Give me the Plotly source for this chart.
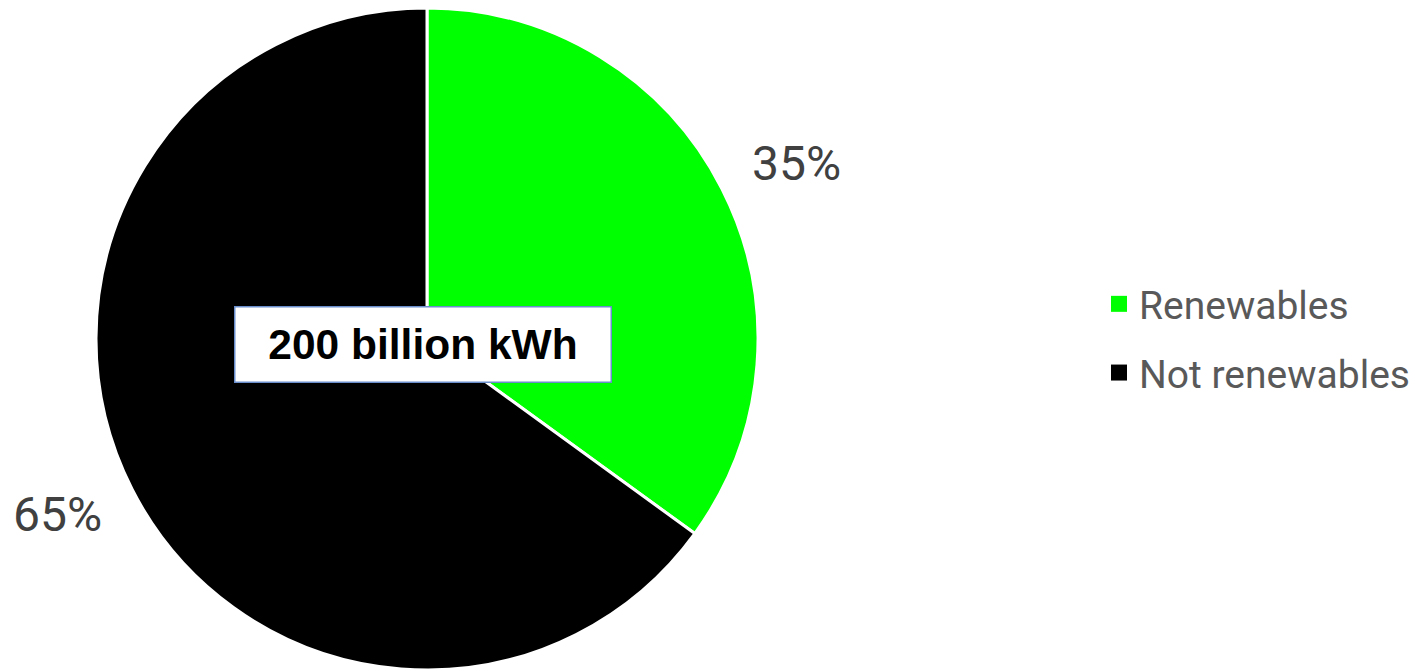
import math
import plotly.graph_objects as go

# ---- data ----
categories = ["Renewables", "Not renewables"]
values = [35, 65]
colors = ["#00FF00", "#000000"]
center_label = "200 billion kWh"

W, H = 1426, 671
OFF = 8  # page body margin offset
# pie placement (figure pixels)
r = 331
cx, cy = 427 - OFF, r


def px_to_paper(x, y):
    return x / W, 1 - y / H


fig = go.Figure()
fig.add_trace(go.Pie(
    labels=categories, values=values, sort=False, direction="clockwise", rotation=0,
    marker=dict(colors=colors, line=dict(color="white", width=3)),
    textinfo="none", hoverinfo="label+percent", showlegend=False,
    domain=dict(x=[(cx - r) / W, (cx + r) / W], y=[1 - 2 * r / H, 1]),
))

# legend entries (one group each so the gap between rows can be set)
for name, col in zip(categories, colors):
    fig.add_trace(go.Scatter(
        x=[None], y=[None], mode="markers", name=name, legendgroup=name,
        marker=dict(symbol="square", size=16, color=col),
    ))

# percentage labels outside slices, placed radially from the data
total = sum(values)
cum = 0
annotations = []
label_dist = 1.235
angle_shift = math.radians(1.6)
for v in values:
    mid = (cum + v / 2) / total * 2 * math.pi + angle_shift
    cum += v
    d = label_dist * r
    lx, ly = px_to_paper(cx + d * math.sin(mid), cy - d * math.cos(mid))
    annotations.append(dict(
        x=lx, y=ly, xref="paper", yref="paper",
        text=f"{round(v / total * 100)}%", showarrow=False,
        font=dict(family="Roboto", size=48, color="#404040"),
        xanchor="center", yanchor="middle",
    ))

bx, by = px_to_paper(422.5 - OFF, 344 - OFF)
annotations.append(dict(
    x=bx, y=by, xref="paper", yref="paper",
    text=f"<b>{center_label}</b>", showarrow=False,
    font=dict(family="Liberation Sans", size=42.5, color="black"),
    bgcolor="white", bordercolor="#6A8DCB", borderwidth=1.5, borderpad=2,
    width=371, height=70, align="center", valign="middle",
    xanchor="center", yanchor="middle",
))

lgx, lgy = px_to_paper(1099 - OFF, 272 - OFF)
fig.update_layout(
    width=W, height=H,
    margin=dict(l=0, r=0, t=0, b=0),
    paper_bgcolor="white", plot_bgcolor="white",
    xaxis=dict(visible=False), yaxis=dict(visible=False),
    showlegend=True,
    legend=dict(
        x=lgx, y=lgy, xanchor="left", yanchor="top",
        font=dict(family="Roboto", size=39, color="#595959"),
        tracegroupgap=15, bgcolor="rgba(0,0,0,0)",
    ),
    annotations=annotations,
)

fig.write_html("out.html")
